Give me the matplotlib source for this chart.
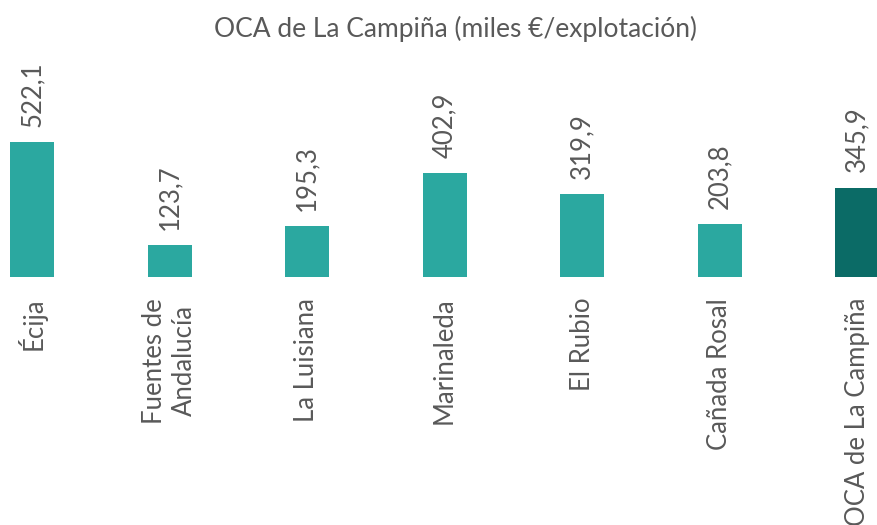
import matplotlib
matplotlib.use("Agg")
import matplotlib.pyplot as plt

categories = ["Écija", "Fuentes de\nAndalucía", "La Luisiana", "Marinaleda",
              "El Rubio", "Cañada Rosal", "OCA de La Campiña"]
values = [522.1, 123.7, 195.3, 402.9, 319.9, 203.8, 345.9]
labels = ["522,1", "123,7", "195,3", "402,9", "319,9", "203,8", "345,9"]
colors = ["#2BA8A0"] * 6 + ["#0B6B66"]

plt.rcParams['font.family'] = ['Lato', 'DejaVu Sans']
txt = "#595959"

fig = plt.figure(figsize=(8.77, 5.25), dpi=100)
ax = fig.add_axes([0, 248/525, 1, 277/525])
x = list(range(len(categories)))
ax.bar(x, values, width=0.32, color=colors)
ax.set_xlim(-32/137.5, (877-32)/137.5)
ax.set_ylim(0, 277/0.2586)
for xi, v, lab in zip(x, values, labels):
    ax.annotate(lab, (xi, v), xytext=(0, 11), textcoords="offset points",
                rotation=90, ha="center", va="bottom", fontsize=18.5, color=txt)
ax.set_xticks(x)
ax.set_xticklabels(categories, rotation=90, fontsize=18.5, color=txt, va="top", ha="center",
                   multialignment="center", linespacing=1.25)
ax.tick_params(axis="x", length=0, pad=15)
ax.set_yticks([])
for s in ax.spines.values():
    s.set_visible(False)
fig.text(455/877, 1 - 29/525, "OCA de La Campiña (miles €/explotación)", ha="center",
         va="center", fontsize=19, color=txt)
fig.savefig("out.png", dpi=100)
